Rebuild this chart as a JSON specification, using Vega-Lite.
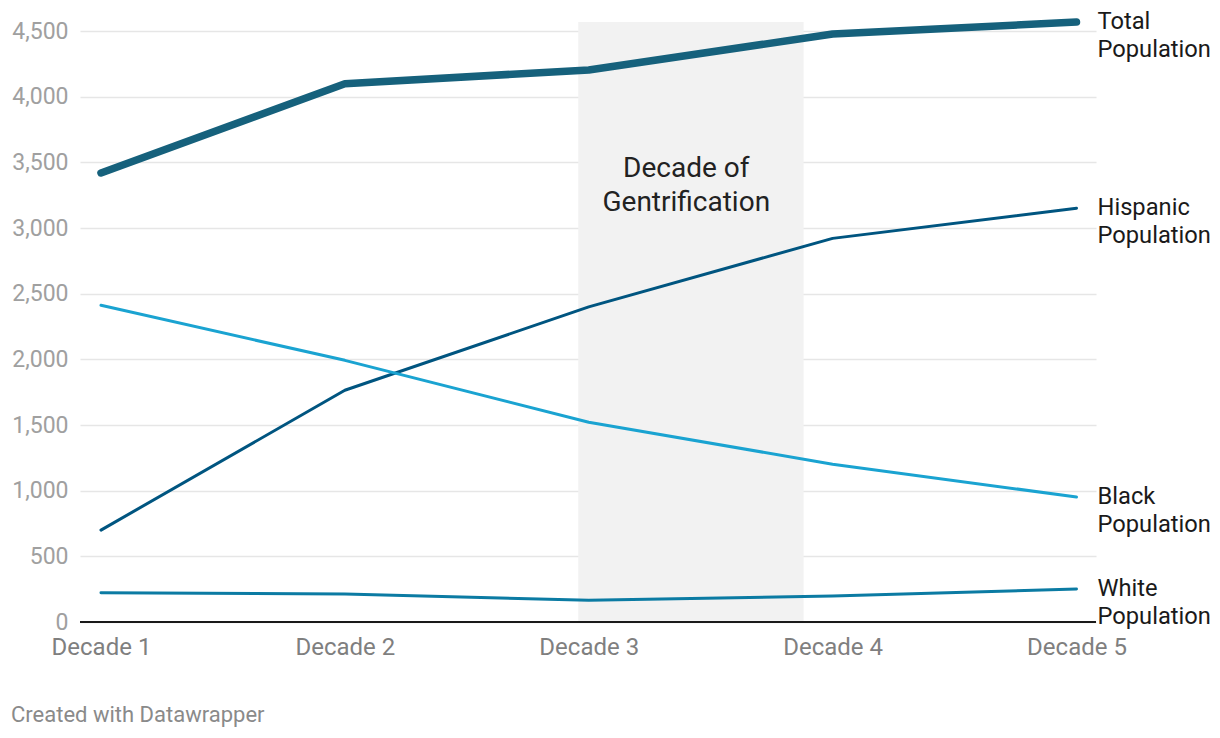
{
  "$schema": "https://vega.github.io/schema/vega-lite/v6.json",
  "width": 1016,
  "height": 600,
  "autosize": {"type": "none"},
  "padding": {"left": 80, "top": 22, "right": 124, "bottom": 116},
  "background": "white",
  "config": {
    "view": {"stroke": null},
    "font": "Roboto",
    "text": {"font": "Roboto"}
  },
  "title": {
    "text": "Created with Datawrapper",
    "orient": "bottom",
    "anchor": "start",
    "frame": "group",
    "dx": -69,
    "offset": 46,
    "fontSize": 22,
    "font": "Roboto",
    "fontWeight": "normal",
    "color": "#8a8a8a"
  },
  "datasets": {
    "series": [
      {"decade": 1, "value": 3420, "series": "Total Population"},
      {"decade": 2, "value": 4100, "series": "Total Population"},
      {"decade": 3, "value": 4205, "series": "Total Population"},
      {"decade": 4, "value": 4478, "series": "Total Population"},
      {"decade": 5, "value": 4570, "series": "Total Population"},
      {"decade": 1, "value": 700, "series": "Hispanic Population"},
      {"decade": 2, "value": 1765, "series": "Hispanic Population"},
      {"decade": 3, "value": 2400, "series": "Hispanic Population"},
      {"decade": 4, "value": 2922, "series": "Hispanic Population"},
      {"decade": 5, "value": 3152, "series": "Hispanic Population"},
      {"decade": 1, "value": 2412, "series": "Black Population"},
      {"decade": 2, "value": 1993, "series": "Black Population"},
      {"decade": 3, "value": 1522, "series": "Black Population"},
      {"decade": 4, "value": 1202, "series": "Black Population"},
      {"decade": 5, "value": 952, "series": "Black Population"},
      {"decade": 1, "value": 222, "series": "White Population"},
      {"decade": 2, "value": 213, "series": "White Population"},
      {"decade": 3, "value": 166, "series": "White Population"},
      {"decade": 4, "value": 198, "series": "White Population"},
      {"decade": 5, "value": 251, "series": "White Population"}
    ],
    "labels": [
      {"decade": 5, "value": 4570, "label": ["Total", "Population"]},
      {"decade": 5, "value": 3152, "label": ["Hispanic", "Population"]},
      {"decade": 5, "value": 952, "label": ["Black", "Population"]},
      {"decade": 5, "value": 251, "label": ["White", "Population"]}
    ],
    "shade": [
      {"start": 2.957, "end": 3.881, "low": 0, "high": 4570}
    ],
    "note": [
      {"decade": 3.4, "value": 3452, "label": ["Decade of", "Gentrification"]}
    ],
    "base": [{"value": 0}]
  },
  "layer": [
    {
      "data": {"name": "shade"},
      "mark": {"type": "rect", "color": "#f2f2f2"},
      "encoding": {
        "x": {"field": "start", "type": "quantitative", "scale": {"domain": [0.914, 5.08], "nice": false, "zero": false}},
        "x2": {"field": "end"},
        "y": {"field": "low", "type": "quantitative", "scale": {"domain": [0, 4570], "nice": false}},
        "y2": {"field": "high"}
      }
    },
    {
      "data": {"name": "series"},
      "mark": {"type": "line", "strokeCap": "round", "strokeJoin": "round"},
      "encoding": {
        "x": {
          "field": "decade", "type": "quantitative",
          "scale": {"domain": [0.914, 5.08], "nice": false, "zero": false},
          "axis": {
            "title": null, "values": [1, 2, 3, 4, 5],
            "labelExpr": "'Decade ' + datum.value",
            "domain": false, "ticks": false, "grid": false,
            "labelFontSize": 24, "labelColor": "#7f7f7f", "labelFont": "Roboto",
            "labelPadding": 13, "labelFlush": false
          }
        },
        "y": {
          "field": "value", "type": "quantitative",
          "scale": {"domain": [0, 4570], "nice": false},
          "axis": {
            "title": null, "values": [0, 500, 1000, 1500, 2000, 2500, 3000, 3500, 4000, 4500],
            "format": ",.0f", "domain": false, "ticks": false,
            "grid": true, "gridColor": "#e6e6e6", "gridWidth": 1.5,
            "labelFontSize": 23, "labelColor": "#a0a0a0", "labelFont": "Roboto",
            "labelPadding": 12
          }
        },
        "detail": {"field": "series"},
        "color": {
          "field": "series", "type": "nominal", "legend": null,
          "scale": {
            "domain": ["Total Population", "Hispanic Population", "Black Population", "White Population"],
            "range": ["#16617c", "#005580", "#1aa3d1", "#0b7ba3"]
          }
        },
        "strokeWidth": {
          "field": "series", "type": "nominal", "legend": null,
          "scale": {
            "type": "ordinal",
            "domain": ["Total Population", "Hispanic Population", "Black Population", "White Population"],
            "range": [7.5, 3, 3, 3]
          }
        }
      }
    },
    {
      "data": {"name": "base"},
      "mark": {"type": "rule", "color": "#1a1a1a", "strokeWidth": 2},
      "encoding": {
        "y": {"field": "value", "type": "quantitative"}
      }
    },
    {
      "data": {"name": "labels"},
      "mark": {"type": "text", "align": "left", "baseline": "middle", "dx": 21, "dy": 0, "fontSize": 23.7, "lineHeight": 28, "color": "#1a1a1a", "font": "Roboto"},
      "encoding": {
        "x": {"field": "decade", "type": "quantitative"},
        "y": {"field": "value", "type": "quantitative"},
        "text": {"field": "label"}
      }
    },
    {
      "data": {"name": "note"},
      "mark": {"type": "text", "align": "center", "baseline": "middle", "fontSize": 28, "lineHeight": 34, "color": "#222222", "font": "Roboto"},
      "encoding": {
        "x": {"field": "decade", "type": "quantitative"},
        "y": {"field": "value", "type": "quantitative"},
        "text": {"field": "label"}
      }
    }
  ]
}
